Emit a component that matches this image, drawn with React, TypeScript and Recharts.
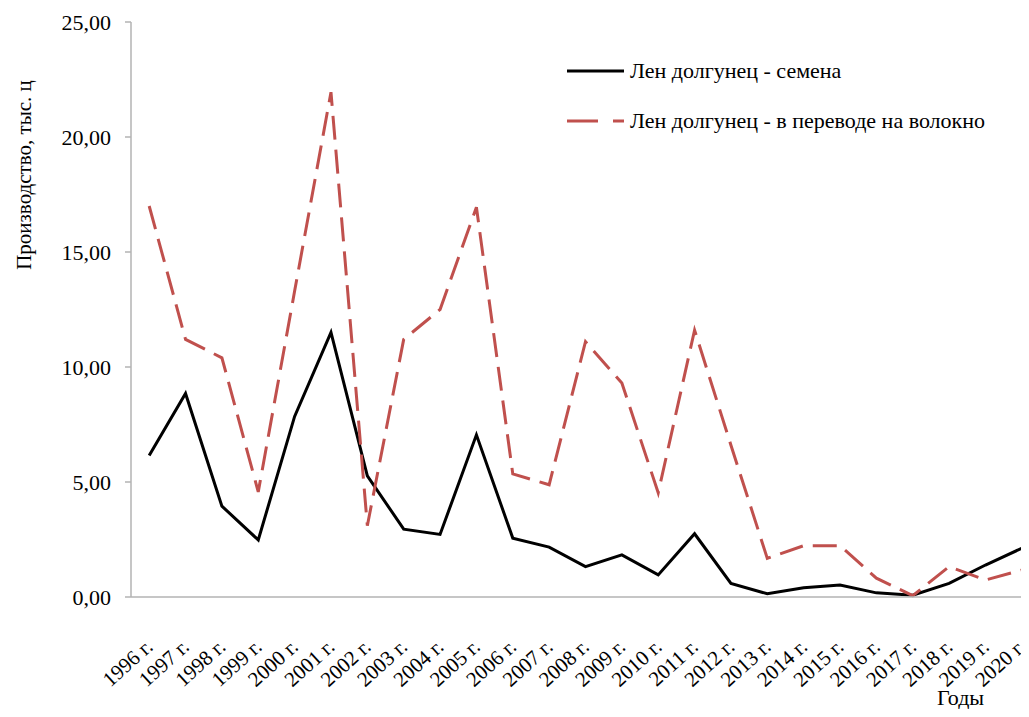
import { LineChart, Line, XAxis, YAxis } from "recharts";

const years = [
  "1996 г.", "1997 г.", "1998 г.", "1999 г.", "2000 г.", "2001 г.", "2002 г.",
  "2003 г.", "2004 г.", "2005 г.", "2006 г.", "2007 г.", "2008 г.", "2009 г.",
  "2010 г.", "2011 г.", "2012 г.", "2013 г.", "2014 г.", "2015 г.", "2016 г.",
  "2017 г.", "2018 г.", "2019 г.", "2020 г.",
];

// Лен долгунец - семена
const seeds = [
  6.15, 8.85, 3.95, 2.48, 7.85, 11.5, 5.27, 2.95, 2.72, 7.05, 2.56, 2.17, 1.32,
  1.83, 0.96, 2.75, 0.59, 0.14, 0.4, 0.52, 0.18, 0.08, 0.59, 1.39, 2.12,
];

// Лен долгунец - в переводе на волокно
const fiber = [
  17.0, 11.2, 10.4, 4.57, 13.3, 21.95, 3.1, 11.2, 12.5, 16.95, 5.35, 4.88, 11.1,
  9.3, 4.53, 11.6, 6.6, 1.68, 2.23, 2.23, 0.82, 0.06, 1.32, 0.74, 1.17,
];

const yTicks = [0, 5, 10, 15, 20, 25];

const data = years.map((year, i) => ({
  idx: i,
  year,
  seeds: seeds[i],
  fiber: fiber[i],
}));

const edgeTicks = years.map((_, i) => i - 0.5).concat(years.length - 0.5);

const FONT = "'Liberation Serif', 'Times New Roman', serif";
const FS = 22;
const AXIS_GRAY = "#b3b3b3";
const RED = "#c0504d";

const XTick = (props: any) => {
  const { x, y, payload } = props;
  return (
    <text
      x={x}
      y={y}
      transform={`rotate(-42 ${x} ${y})`}
      textAnchor="end"
      dy="0.35em"
      fontSize={FS - 1}
      fontFamily={FONT}
      fill="#000"
    >
      {years[payload.value]}
    </text>
  );
};

const LegendBox = () => (
  <div
    style={{
      position: "absolute",
      top: 56,
      left: 565,
      fontFamily: FONT,
      fontSize: FS,
      color: "#000",
      whiteSpace: "nowrap",
    }}
  >
    <div style={{ display: "flex", alignItems: "center", height: 30 }}>
      <svg width={60} height={10}>
        <line x1={2} y1={5} x2={59} y2={5} stroke="#000" strokeWidth={3} />
      </svg>
      <span style={{ marginLeft: 5 }}>Лен долгунец - семена</span>
    </div>
    <div style={{ display: "flex", alignItems: "center", height: 30, marginTop: 20 }}>
      <svg width={60} height={10}>
        <line x1={2} y1={5} x2={59} y2={5} stroke={RED} strokeWidth={3} strokeDasharray="31 15" />
      </svg>
      <span style={{ marginLeft: 5 }}>Лен долгунец - в переводе на волокно</span>
    </div>
  </div>
);

export default function App() {
  return (
    <div
      style={{
        margin: -8,
        width: 1029,
        height: 717,
        overflow: "hidden",
        position: "relative",
        background: "#fff",
        fontFamily: FONT,
      }}
    >
      <LineChart
        width={1060}
        height={717}
        data={data}
        margin={{ top: 22, right: 20, left: 0, bottom: 0 }}
      >
        <XAxis
          xAxisId="edges"
          dataKey="idx"
          type="number"
          domain={[-0.5, years.length - 0.5]}
          ticks={edgeTicks}
          interval={0}
          height={0}
          tick={false}
          tickSize={7}
          tickLine={{ stroke: AXIS_GRAY, strokeWidth: 1.5 }}
          axisLine={false}
        />
        <XAxis
          dataKey="idx"
          type="number"
          domain={[-0.5, years.length - 0.5]}
          ticks={years.map((_, i) => i)}
          interval={0}
          height={120}
          tickSize={0}
          tickMargin={46}
          tickLine={false}
          axisLine={{ stroke: AXIS_GRAY, strokeWidth: 1.5 }}
          tick={<XTick />}
          label={{
            content: (p: any) => (
              <text
                x={p.viewBox.x + 806}
                y={p.viewBox.y + 108}
                fontSize={FS}
                fontFamily={FONT}
                fill="#000"
              >
                Годы
              </text>
            ),
          }}
        />
        <YAxis
          width={131}
          domain={[0, 25]}
          ticks={yTicks}
          interval={0}
          tickSize={6}
          tickMargin={14}
          tickLine={{ stroke: AXIS_GRAY, strokeWidth: 1.5 }}
          axisLine={{ stroke: AXIS_GRAY, strokeWidth: 1.5 }}
          tickFormatter={(v: number) => v.toFixed(2).replace(".", ",")}
          tick={{ fill: "#000", fontSize: FS, fontFamily: FONT }}
          label={{
            content: (p: any) => {
              const cx = p.viewBox.x + 24;
              const cy = p.viewBox.y + 153;
              return (
                <text
                  x={cx}
                  y={cy}
                  transform={`rotate(-90 ${cx} ${cy})`}
                  textAnchor="middle"
                  dominantBaseline="central"
                  fontSize={FS - 1}
                  fontFamily={FONT}
                  fill="#000"
                >
                  Производство, тыс. ц
                </text>
              );
            },
          }}
        />
        <Line
          dataKey="seeds"
          stroke="#000"
          strokeWidth={3}
          dot={false}
          isAnimationActive={false}
        />
        <Line
          dataKey="fiber"
          stroke={RED}
          strokeWidth={3}
          strokeDasharray="24 10"
          dot={false}
          isAnimationActive={false}
        />
      </LineChart>
      <LegendBox />
    </div>
  );
}
